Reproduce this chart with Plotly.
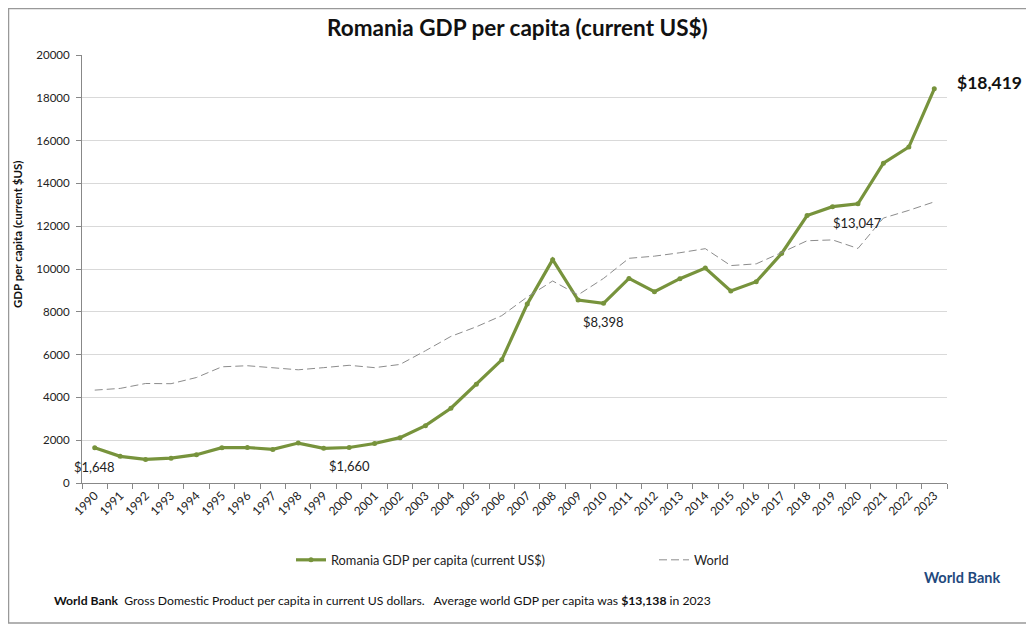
import plotly.graph_objects as go

years = [str(y) for y in range(1990, 2024)]
romania = [1648, 1245, 1102, 1159, 1323, 1651, 1659, 1570, 1866, 1618,
           1660, 1846, 2120, 2679, 3494, 4618, 5757, 8360, 10435, 8548,
           8398, 9560, 8940, 9547, 10044, 8976, 9404, 10728, 12495, 12914,
           13047, 14946, 15700, 18419]
world = [4340, 4420, 4650, 4640, 4930, 5430, 5480, 5400, 5290, 5390,
         5500, 5390, 5540, 6180, 6850, 7300, 7820, 8690, 9440, 8790,
         9560, 10500, 10600, 10760, 10950, 10160, 10240, 10770, 11320, 11360,
         10960, 12380, 12740, 13138]
label_years = ["1990", "2000", "2010", "2020"]
y_ticks = list(range(0, 20001, 2000))

# page has an 8px body margin; figure sized so it fits the 1034x624 window
OFF = 8
W, H = 1034 - OFF, 624 - OFF
# plot area in window pixels: x 82..947, y 55..483
L, R, T, B = 82 - OFF, W - (947 - OFF), 55 - OFF, H - (483 - OFF)
pw, ph = W - L - R, H - T - B

def px(x):  # window pixel -> paper x
    return (x - OFF - L) / pw

def py(y):  # window pixel -> paper y
    return (H - B - (y - OFF)) / ph

fig = go.Figure()
fig.add_trace(go.Scatter(
    x=years, y=romania, mode="lines+markers",
    name="Romania GDP per capita (current US$)",
    line=dict(color="#77933C", width=3.2),
    marker=dict(size=5, color="#77933C"),
    legend="legend",
))
fig.add_trace(go.Scatter(
    x=years, y=world, mode="lines", name="World",
    line=dict(color="#8C8C8C", width=1, dash="8px,4px"),
    legend="legend2",
))

for yr in label_years:
    i = years.index(yr)
    v = romania[i]
    fig.add_annotation(x=i, y=v, text=f"${v:,}", showarrow=False,
                       xanchor="center", yanchor="middle", yshift=-19,
                       font=dict(size=13, color="#222", family="Lato"))

last = romania[-1]
fig.add_annotation(x=len(years) - 1, y=last, text=f"<b>${last:,}</b>", showarrow=False,
                   xanchor="left", yanchor="middle", xshift=21, yshift=6,
                   font=dict(size=17.5, color="#111", family="Lato"))

fig.add_annotation(xref="paper", yref="paper", x=px(517), y=py(27),
                   xanchor="center", yanchor="middle",
                   text="<b>Romania GDP per capita (current US$)</b>", showarrow=False,
                   font=dict(size=22.5, color="#111", family="Lato"))
fig.add_annotation(xref="paper", yref="paper", x=px(1002), y=py(577),
                   xanchor="right", yanchor="middle",
                   text="<b>World Bank</b>", showarrow=False,
                   font=dict(size=14.5, color="#1F497D", family="Lato"))
fig.add_annotation(xref="paper", yref="paper", x=px(52), y=py(600),
                   xanchor="left", yanchor="middle",
                   text="<b>World Bank</b>  Gross Domestic Product per capita in current US dollars.   "
                        "Average world GDP per capita was <b>$13,138</b> in 2023",
                   showarrow=False, font=dict(size=12.2, color="#111", family="Lato"))
fig.add_annotation(xref="paper", yref="paper", x=px(17), y=py(234),
                   xanchor="center", yanchor="middle", textangle=-90,
                   text="<b>GDP per capita (current $US)</b>", showarrow=False,
                   font=dict(size=11.5, color="#111", family="Lato"))

fig.add_shape(type="rect", xref="paper", yref="paper",
              x0=px(OFF + 0.5), x1=px(1033), y0=py(623), y1=py(OFF + 0.5),
              line=dict(color="#999", width=1.5), fillcolor="rgba(0,0,0,0)")

leg_common = dict(orientation="h", xref="paper", yref="paper",
                  xanchor="left", yanchor="middle",
                  font=dict(size=12.8, color="#222", family="Lato"),
                  bgcolor="rgba(0,0,0,0)")

fig.update_layout(
    width=W, height=H,
    margin=dict(l=L, r=R, t=T, b=B, autoexpand=False),
    paper_bgcolor="white", plot_bgcolor="white",
    font=dict(family="Lato", color="#222"),
    showlegend=True,
    legend=dict(x=px(291), y=py(560), **leg_common),
    legend2=dict(x=px(654), y=py(560), **leg_common),
    xaxis=dict(type="category", range=[-0.5, len(years) - 0.5], automargin=False,
               tickangle=-45, tickson="boundaries", ticks="outside", ticklen=5,
               tickcolor="#888", showline=True, linecolor="#888", linewidth=1,
               showgrid=False, tickfont=dict(size=12, color="#222", family="Lato")),
    yaxis=dict(range=[0, 20000], tickvals=y_ticks, ticktext=[str(v) for v in y_ticks],
               automargin=False, ticks="outside", ticklen=5, tickcolor="#888",
               ticklabelstandoff=4,
               showline=True, linecolor="#888", linewidth=1,
               showgrid=True, gridcolor="#D9D9D9", zeroline=False,
               tickfont=dict(size=11.5, color="#222", family="Lato")),
)

fig.write_html("out.html")
